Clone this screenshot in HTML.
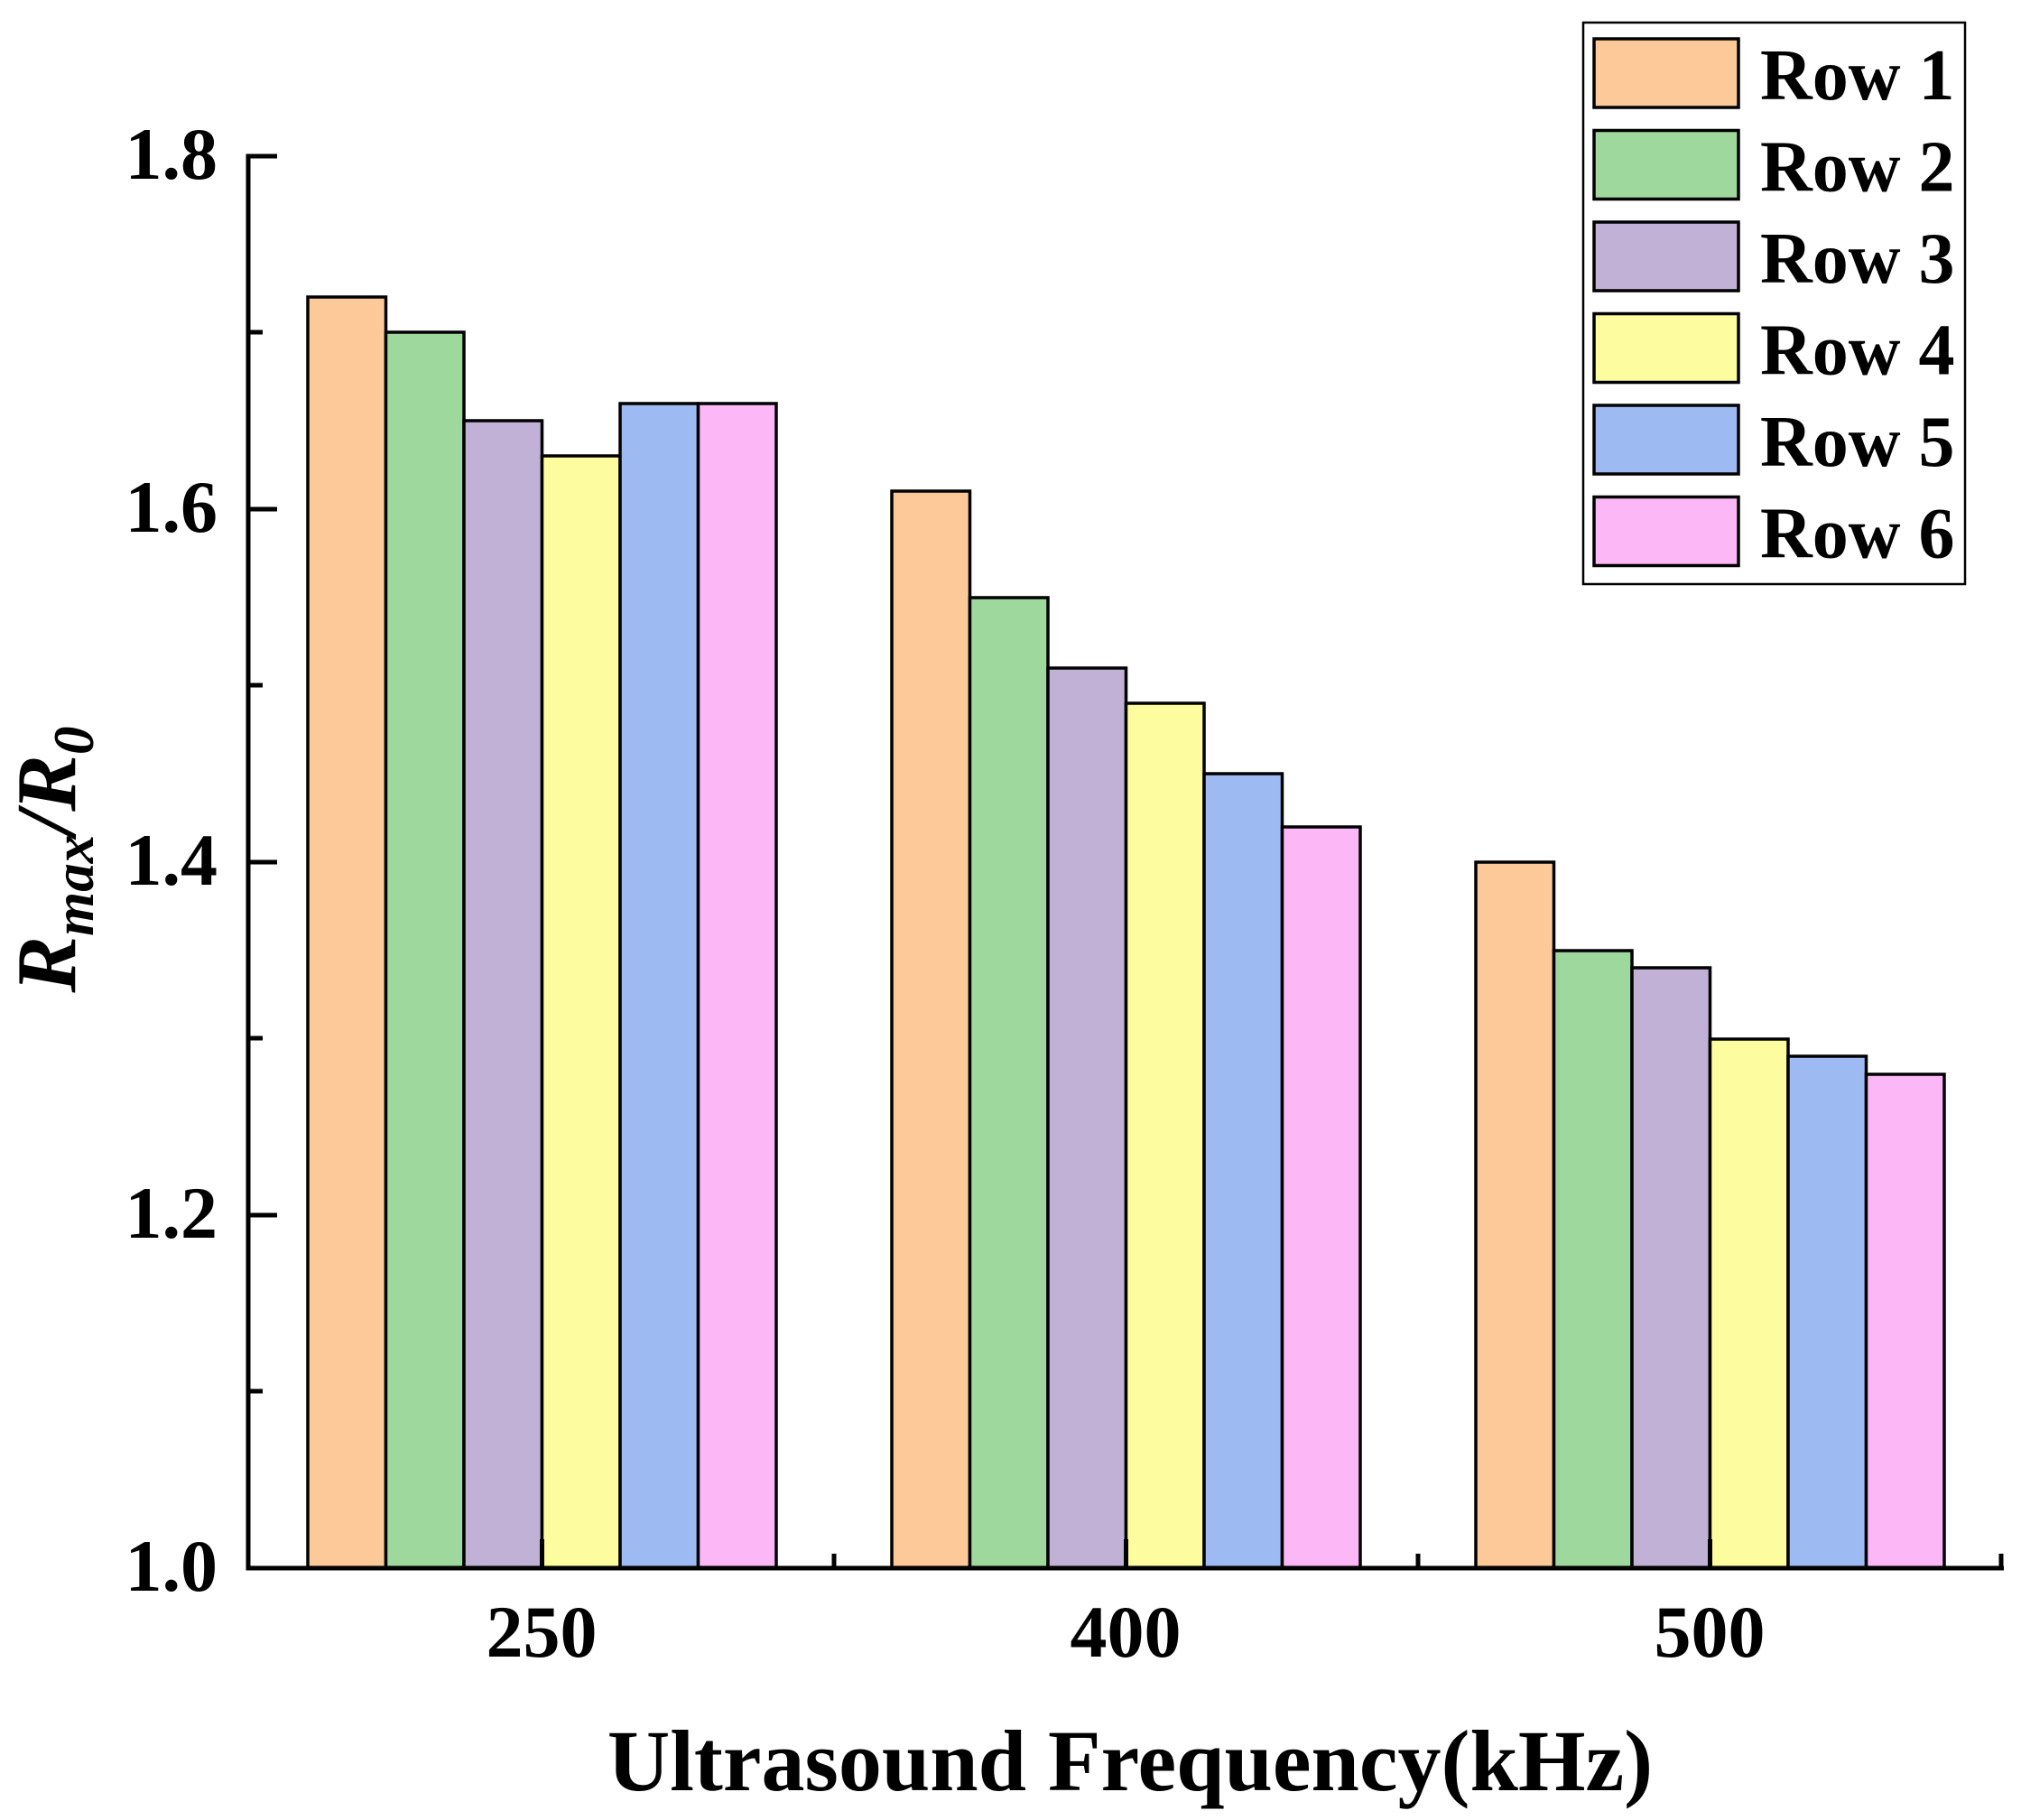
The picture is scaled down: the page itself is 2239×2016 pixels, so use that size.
<!DOCTYPE html>
<html><head><meta charset="utf-8"><style>
html,body{margin:0;padding:0;background:#fff;}
svg{display:block;}
text{font-family:"Liberation Serif",serif;font-weight:bold;fill:#000;}
</style></head><body>
<svg width="2239" height="2016" viewBox="0 0 2239 2016" xmlns="http://www.w3.org/2000/svg">
<g stroke="#000" stroke-width="3.5">
<rect x="341" y="329" width="86.5" height="1408" fill="#FDC998"/>
<rect x="427.5" y="368" width="86.5" height="1369" fill="#9FD89D"/>
<rect x="514" y="466" width="86.5" height="1271" fill="#C2B1D7"/>
<rect x="600.5" y="505" width="86.5" height="1232" fill="#FDFD9F"/>
<rect x="687" y="447" width="86.5" height="1290" fill="#9DBBF2"/>
<rect x="773.5" y="447" width="86.5" height="1290" fill="#FCB7F6"/>
<rect x="988" y="544" width="86.5" height="1193" fill="#FDC998"/>
<rect x="1074.5" y="662" width="86.5" height="1075" fill="#9FD89D"/>
<rect x="1161" y="740" width="86.5" height="997" fill="#C2B1D7"/>
<rect x="1247.5" y="779" width="86.5" height="958" fill="#FDFD9F"/>
<rect x="1334" y="857" width="86.5" height="880" fill="#9DBBF2"/>
<rect x="1420.5" y="916" width="86.5" height="821" fill="#FCB7F6"/>
<rect x="1635" y="955" width="86.5" height="782" fill="#FDC998"/>
<rect x="1721.5" y="1053" width="86.5" height="684" fill="#9FD89D"/>
<rect x="1808" y="1072" width="86.5" height="665" fill="#C2B1D7"/>
<rect x="1894.5" y="1151" width="86.5" height="586" fill="#FDFD9F"/>
<rect x="1981" y="1170" width="86.5" height="567" fill="#9DBBF2"/>
<rect x="2067.5" y="1190" width="86.5" height="547" fill="#FCB7F6"/>
</g>
<g stroke="#000" stroke-width="5" fill="none">
<line x1="275" y1="170.5" x2="275" y2="1739.5"/>
<line x1="272.5" y1="1737" x2="2220" y2="1737"/>
<line x1="275" y1="173" x2="307" y2="173"/>
<line x1="275" y1="564" x2="307" y2="564"/>
<line x1="275" y1="955" x2="307" y2="955"/>
<line x1="275" y1="1346" x2="307" y2="1346"/>
<line x1="275" y1="368" x2="291" y2="368"/>
<line x1="275" y1="759" x2="291" y2="759"/>
<line x1="275" y1="1150" x2="291" y2="1150"/>
<line x1="275" y1="1541" x2="291" y2="1541"/>
<line x1="600.5" y1="1737" x2="600.5" y2="1705"/>
<line x1="1247.5" y1="1737" x2="1247.5" y2="1705"/>
<line x1="1894.5" y1="1737" x2="1894.5" y2="1705"/>
<line x1="924" y1="1737" x2="924" y2="1721"/>
<line x1="1571" y1="1737" x2="1571" y2="1721"/>
<line x1="2217" y1="1737" x2="2217" y2="1721"/>
</g>
<g font-size="82" text-anchor="end">
<text x="241" y="198">1.8</text>
<text x="241" y="589">1.6</text>
<text x="241" y="980">1.4</text>
<text x="241" y="1371">1.2</text>
<text x="241" y="1762">1.0</text>
</g>
<g font-size="82" text-anchor="middle">
<text x="600" y="1835">250</text>
<text x="1247" y="1835">400</text>
<text x="1894" y="1835">500</text>
</g>
<text x="1252" y="1983" font-size="96" text-anchor="middle">Ultrasound Frequency(kHz)</text>
<text transform="translate(83,952) rotate(-90)" font-size="94" font-style="italic" text-anchor="middle">R<tspan font-size="63" dy="20">max</tspan><tspan dy="-20">/R</tspan><tspan font-size="63" dy="20">0</tspan></text>
<rect x="1754" y="25" width="423" height="622" fill="#fff" stroke="#000" stroke-width="2.5"/>
<g stroke="#000" stroke-width="3.5">
<rect x="1766" y="43" width="160" height="76" fill="#FDC998"/>
<rect x="1766" y="144.5" width="160" height="76" fill="#9FD89D"/>
<rect x="1766" y="246" width="160" height="76" fill="#C2B1D7"/>
<rect x="1766" y="347.5" width="160" height="76" fill="#FDFD9F"/>
<rect x="1766" y="449" width="160" height="76" fill="#9DBBF2"/>
<rect x="1766" y="550.5" width="160" height="76" fill="#FCB7F6"/>
</g>
<g font-size="80">
<text x="1950" y="110">Row 1</text>
<text x="1950" y="211.5">Row 2</text>
<text x="1950" y="313">Row 3</text>
<text x="1950" y="414.5">Row 4</text>
<text x="1950" y="516">Row 5</text>
<text x="1950" y="617.5">Row 6</text>
</g>
</svg>
</body></html>
